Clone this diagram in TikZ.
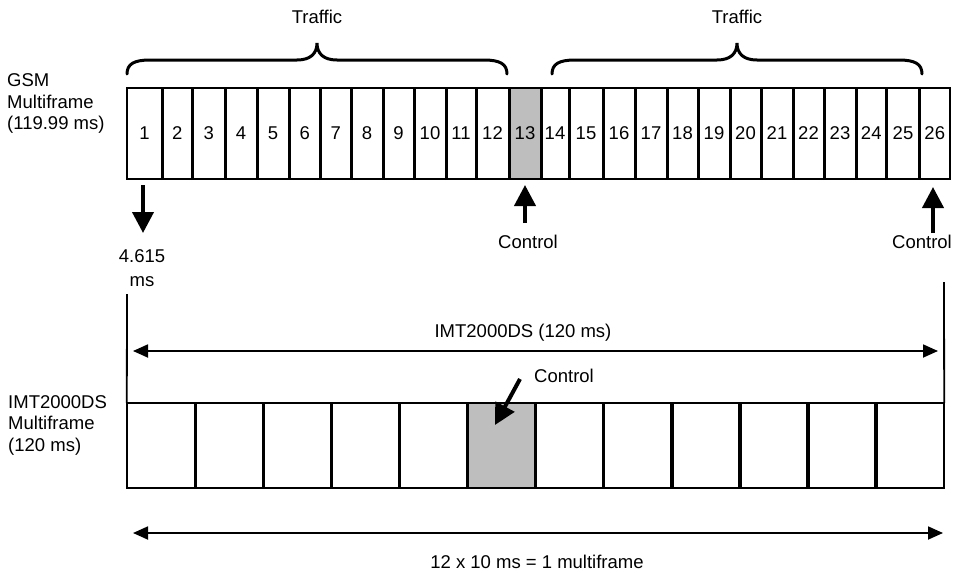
\documentclass[tikz,border=0pt]{standalone}
\usepackage{fontspec}
\setmainfont{Liberation Sans}
\usetikzlibrary{arrows.meta}
\definecolor{ctrlgray}{HTML}{BEBEBE}
\newcommand{\lblfont}{\fontsize{18.5}{21.5}\selectfont}
\begin{document}
\begin{tikzpicture}[x=1pt,y=-1pt,
  every node/.style={font=\lblfont, inner sep=0pt},
  gcell/.style={minimum height=91pt},
  mcell/.style={minimum height=85pt, minimum width=68.083pt},
  ctrlfill/.style={fill=ctrlgray},
  frameborder/.style={line width=1.8pt},
  divider/.style={line width=3.4pt},
  bracestyle/.style={line width=3pt, line cap=round},
  bigarrow/.style={line width=4pt, -{Triangle[length=21pt,width=21pt]}},
  dimarrow/.style={line width=1.8pt, {Triangle[length=15pt,width=13pt]}-{Triangle[length=15pt,width=13pt]}},
  guide/.style={line width=1.8pt}
]
\useasboundingbox (0,0) rectangle (954,573);

% GSM multiframe cells
\foreach \i/\a/\b in {1/127/162, 2/162/192.5, 3/192.5/225, 4/225/257, 5/257/289,
  6/289/320.5, 7/320.5/351, 8/351/383, 9/383/414, 10/414/446, 11/446/476,
  12/476/509, 13/509/541, 14/541/569, 15/569/603, 16/603/635, 17/635/667,
  18/667/698, 19/698/730, 20/730/761, 21/761/793, 22/793/824, 23/824/856,
  24/856/886.5, 25/886.5/919.5, 26/919.5/950}
{
  \ifnum\i=13
    \node[gcell, ctrlfill, minimum width={(\b-\a)*1pt}] (g\i) at ({(\a+\b)/2},133.5) {\i};
  \else
    \node[gcell, minimum width={(\b-\a)*1pt}] (g\i) at ({(\a+\b)/2},133.5) {\i};
  \fi
}
\draw[frameborder] (g1.north west) rectangle (g26.south east);
\foreach \i in {1,...,25} \draw[divider] (g\i.north east) -- (g\i.south east);

% IMT2000DS multiframe cells
\foreach \i in {1,...,12}
{
  \ifnum\i=6
    \node[mcell, ctrlfill] (m\i) at ({127+68.083*(\i-0.5)},445.5) {};
  \else
    \node[mcell] (m\i) at ({127+68.083*(\i-0.5)},445.5) {};
  \fi
}
\draw[frameborder] (m1.north west) rectangle (m12.south east);
\foreach \i in {1,...,11} \draw[divider] (m\i.north east) -- (m\i.south east);

% left labels
\node[anchor=west, align=left] (gsmlbl) at (7,103.5) {GSM\\Multiframe\\(119.99 ms)};
\node[anchor=west, align=left] (imtlbl) at (8,425) {IMT2000DS\\Multiframe\\(120 ms)};

% braces and traffic labels
\draw[bracestyle] (127,74) .. controls (127,64) and (134,60) .. (150,60) -- (297,60)
  .. controls (310,60) and (317,54) .. (317,43)
  .. controls (317,54) and (324,60) .. (337,60) -- (484,60)
  .. controls (500,60) and (507,64) .. (507,74);
\draw[bracestyle] (552,74) .. controls (552,64) and (559,60) .. (575,60) -- (717,60)
  .. controls (730,60) and (737,54) .. (737,43)
  .. controls (737,54) and (744,60) .. (757,60) -- (899,60)
  .. controls (915,60) and (922,64) .. (922,74);
\node (traf1) at (317,17) {Traffic};
\node (traf2) at (737,17) {Traffic};

% slot duration
\node[align=center, font={\fontsize{18.5}{24}\selectfont}] (slot) at (142,268) {4.615\\ms};
\coordinate (slottop) at (143,185);
\coordinate (slottip) at (143,233);
\draw[bigarrow] (slottop) -- (slottip);

% GSM control arrows
\node (ctl1) at (528,242) {Control};
\node (ctl2) at (922,242) {Control};
\coordinate (c1a) at (525,223);
\coordinate (c1b) at (525,185);
\coordinate (c2a) at (933,233);
\coordinate (c2b) at (933,187);
\draw[bigarrow] (c1a) -- (c1b);
\draw[bigarrow] (c2a) -- (c2b);

% guide lines
\coordinate (gl) at (127,294);
\coordinate (gr) at (944,282);
\draw[guide] (gl) -- (m1.north west);
\draw[guide] (gr) -- (m12.north east);

% IMT2000DS span arrow
\coordinate (sa) at (133,351);
\coordinate (sb) at (938,351);
\draw[dimarrow] (sa) -- (sb);
\node (spanlbl) at (523,333) {IMT2000DS (120 ms)};

% IMT control arrow
\node (ctl3) at (564,376) {Control};
\coordinate (c3a) at (520,379);
\coordinate (c3b) at (495,425);
\draw[bigarrow] (c3a) -- (c3b);

% bottom arrow
\coordinate (ba) at (133,533);
\coordinate (bb) at (943,533);
\draw[dimarrow] (ba) -- (bb);
\node (botlbl) at (537,562) {12 x 10 ms = 1 multiframe};
\end{tikzpicture}
\end{document}
